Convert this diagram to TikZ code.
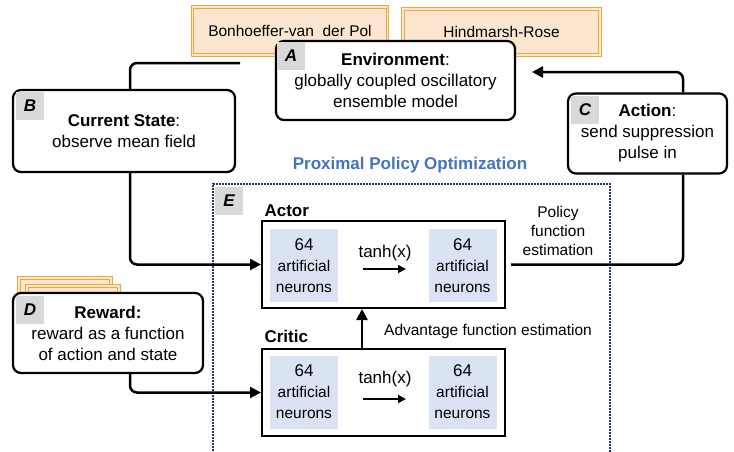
\documentclass[tikz,border=0pt]{standalone}
\usepackage{fontspec}
\setmainfont{Liberation Sans}
\usetikzlibrary{arrows.meta}
\definecolor{peach}{HTML}{FDE6CF}
\definecolor{gold}{HTML}{E8A93A}
\definecolor{taggray}{HTML}{D9D9D9}
\definecolor{cellblue}{HTML}{DAE3F3}
\definecolor{ppoblue}{HTML}{4472C4}
\definecolor{navy}{HTML}{1F3864}
\newcommand{\smallsz}{\fontsize{15.5}{19}\selectfont}
\begin{document}
\begin{tikzpicture}[x=1pt, y=-1pt,
                >={Triangle[length=11pt,width=11pt]},
                every node/.style={font=\fontsize{17}{21}\selectfont},
                state/.style={draw, line width=2.2pt, rounded corners=8pt, fill=white, align=center, inner sep=0pt},
                model/.style={draw=gold, double=peach, double distance=1.6pt, line width=0.8pt, fill=peach, inner sep=0pt, font=\smallsz},
                tag/.style={fill=taggray, minimum size=28pt, inner sep=0pt, font=\fontsize{17}{21}\selectfont\bfseries\itshape},
                net/.style={draw, line width=2pt, fill=white, minimum width=243pt, minimum height=87pt},
                cell/.style={fill=cellblue, minimum width=68pt, minimum height=73pt, align=center, inner sep=0pt},
                link/.style={line width=2.5pt, rounded corners=7pt}]
                \useasboundingbox (0,0) rectangle (734,451);

                % oscillator models
                \node[model, minimum width=195pt, minimum height=48pt] (bvdp) at (290,31) {Bonhoeffer-van\ \ der Pol};
                \node[model, minimum width=197pt, minimum height=46pt] (hr) at (501.5,32) {Hindmarsh-Rose};
                \node[model, minimum width=92pt, minimum height=30pt] (page1) at (65,293) {};
                \node[model, minimum width=92pt, minimum height=30pt] (page2) at (73,301) {};

                % agent-environment loop
                \node[state, minimum width=239pt, minimum height=79pt] (env) at (395.5,80.5) {\textbf{Environment}:\\globally coupled oscillatory\\ensemble model};
                \node[state, minimum width=222pt, minimum height=82pt] (state) at (124,131) {\textbf{Current State}:\\observe mean field};
                \node[state, minimum width=159pt, minimum height=80pt] (action) at (647.5,133.5) {\textbf{Action}:\\send suppression\\pulse in};
                \node[state, minimum width=190pt, minimum height=80pt] (reward) at (108,333) {\textbf{Reward:}\\reward as a function\\of action and state};

                \node[tag, anchor=north west] (tagA) at ([shift={(2,2)}]env.north west) {A};
                \node[tag, anchor=north west] (tagB) at ([shift={(4,3)}]state.north west) {B};
                \node[tag, anchor=north west] (tagC) at ([shift={(4,3)}]action.north west) {C};
                \node[tag, anchor=north west] (tagD) at ([shift={(4,4)}]reward.north west) {D};

                % PPO
                \draw[navy, densely dotted, line width=2pt] (213,460) |- (610,184) -- (610,460);
                \node[ppoblue, font=\fontsize{17}{21}\selectfont\bfseries] (ppo) at (410,165) {Proximal Policy Optimization};
                \node[tag] (tagE) at (229,200.5) {E};

                \node[net] (actor) at (383.5,264.5) {};
                \node[net] (critic) at (383.5,392.5) {};
                \node[anchor=west, font=\fontsize{17}{21}\selectfont\bfseries] (actorlbl) at (261,211) {Actor};
                \node[anchor=west, font=\fontsize{17}{21}\selectfont\bfseries] (criticlbl) at (261,336) {Critic};

                \node[cell] (a1) at (304,265.5) {64\\{\smallsz artificial}\\{\smallsz neurons}};
                \node[cell] (a2) at (462.5,265.5) {64\\{\smallsz artificial}\\{\smallsz neurons}};
                \node[cell] (c1) at (304,392) {64\\{\smallsz artificial}\\{\smallsz neurons}};
                \node[cell] (c2) at (462.5,392) {64\\{\smallsz artificial}\\{\smallsz neurons}};

                \node (atanh) at (385,253) {tanh(x)};
                \node (ctanh) at (385,379) {tanh(x)};
                \draw[->, line width=1.5pt, >={Triangle[length=8pt,width=8pt]}] (363,269) -- (406,269);
                \draw[->, line width=1.5pt, >={Triangle[length=8pt,width=8pt]}] (363,399) -- (406,399);

                \node[align=center, font=\smallsz] (policy) at (558,231) {Policy\\function\\estimation};
                \node[font=\smallsz] (adv) at (488,331) {Advantage function estimation};

                % connectors
                \coordinate (envin) at (240,63);
                \coordinate (envtip) at (532,72);
                \draw[link] ([xshift=6]state.north) |- (envin);
                \draw[link, ->] ([xshift=35.5]action.north) |- (envtip);
                \draw[link] ([xshift=5]actor.east) -| ([xshift=35.5]action.south);
                \draw[link, ->] ([xshift=6]state.south) |- (actor.west);
                \draw[link, ->] ([xshift=22]reward.south) |- (critic.west);
                \draw[link, ->] ([xshift=-21.5]critic.north) -- ([xshift=-21.5]actor.south);
            \end{tikzpicture}
\end{document}
